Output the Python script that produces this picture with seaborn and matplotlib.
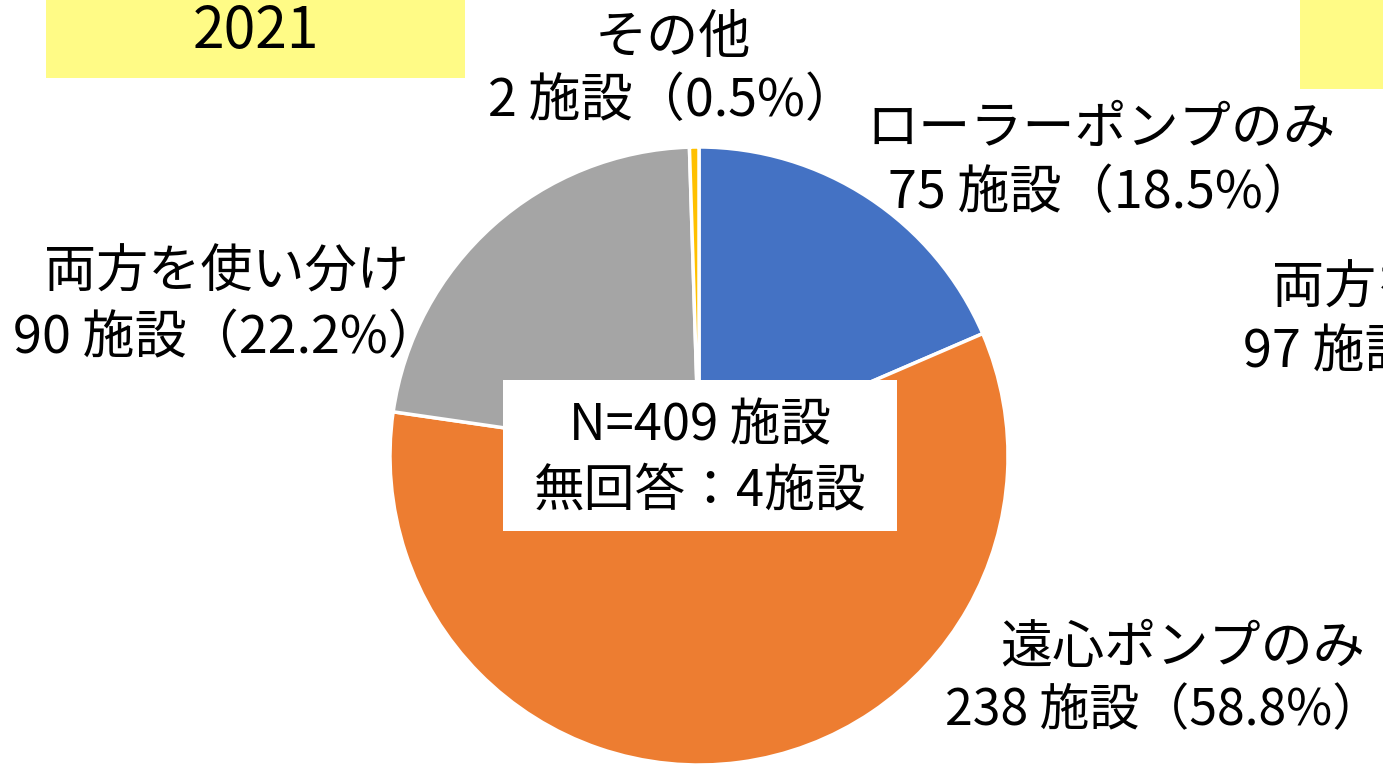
import matplotlib
matplotlib.use("Agg")
import matplotlib.pyplot as plt
from matplotlib.patches import Rectangle
import seaborn as sns

sns.set_theme(style="white")
plt.rcParams['font.family'] = ['Noto Sans CJK JP', 'DejaVu Sans']
plt.rcParams['text.color'] = 'black'

# Data
categories = ["ローラーポンプのみ", "遠心ポンプのみ", "両方を使い分け", "その他"]
counts = [75, 238, 90, 2]
percents = ["18.5%", "58.8%", "22.2%", "0.5%"]
colors = ["#4472C4", "#ED7D31", "#A5A5A5", "#FFC000"]
title_year = "2021"
center_lines = ["N=409 施設", "無回答：4施設"]

W, H = 1383, 765
fig = plt.figure(figsize=(W / 100, H / 100), dpi=100)
fig.patch.set_facecolor("white")

def fx(x):
    return x / W

def fy(y):
    return 1 - y / H

# Yellow title boxes
fig.patches.append(Rectangle((fx(46), fy(78)), fx(465) - fx(46), fy(0) - fy(78),
                             transform=fig.transFigure, facecolor="#FFFB86", edgecolor="none", zorder=0))
fig.patches.append(Rectangle((fx(1300), fy(89)), fx(1383) - fx(1300) + 0.01, fy(0) - fy(89),
                             transform=fig.transFigure, facecolor="#FFFB86", edgecolor="none", zorder=0))
fig.text(fx(256), fy(32), title_year, ha="center", va="center", fontsize=41, color="black")

# Pie
cx, cy, r = 699, 456, 309
ax = fig.add_axes([fx(cx - r), fy(cy + r), 2 * r / W, 2 * r / H])
ax.pie(counts, colors=colors, startangle=90, counterclock=False, radius=1,
       wedgeprops=dict(edgecolor="white", linewidth=2.5))
ax.set_xlim(-1.0, 1.0)
ax.set_ylim(-1.0, 1.0)
ax.set_aspect("equal")
ax.axis("off")

# Center box
fig.patches.append(Rectangle((fx(503), fy(531)), fx(897) - fx(503), fy(380) - fy(531),
                             transform=fig.transFigure, facecolor="white", edgecolor="none", zorder=5))
fig.text(fx(700), fy(426), center_lines[0], ha="center", va="center", fontsize=36.5, color="black", zorder=6)
fig.text(fx(700), fy(491), center_lines[1], ha="center", va="center", fontsize=36.5, color="black", zorder=6)

fs = 37.5
# Labels: (x line1, x line2, y line1, y line2, size line2)
label_pos = [(1101, 1101, 129, 193, fs), (1183, 1164, 648, 711, 36),
             (226, 226, 273, 338, fs), (673, 673, 38, 101, fs)]
for cat, n, p, (x1, x2, y1, y2, s2) in zip(categories, counts, percents, label_pos):
    fig.text(fx(x1), fy(y1), cat, ha="center", va="center", fontsize=fs, color="black")
    fig.text(fx(x2), fy(y2), f"{n} 施設（{p}）", ha="center", va="center", fontsize=s2, color="black")

# Partially visible neighbouring chart labels (cut off at the edge, as in the source)
fig.text(fx(1272), fy(289), "両方を使い分け", ha="left", va="center", fontsize=fs, color="black")
fig.text(fx(1243), fy(352), "97 施設（23.1%）", ha="left", va="center", fontsize=fs, color="black")

fig.savefig("out.png", dpi=100)
